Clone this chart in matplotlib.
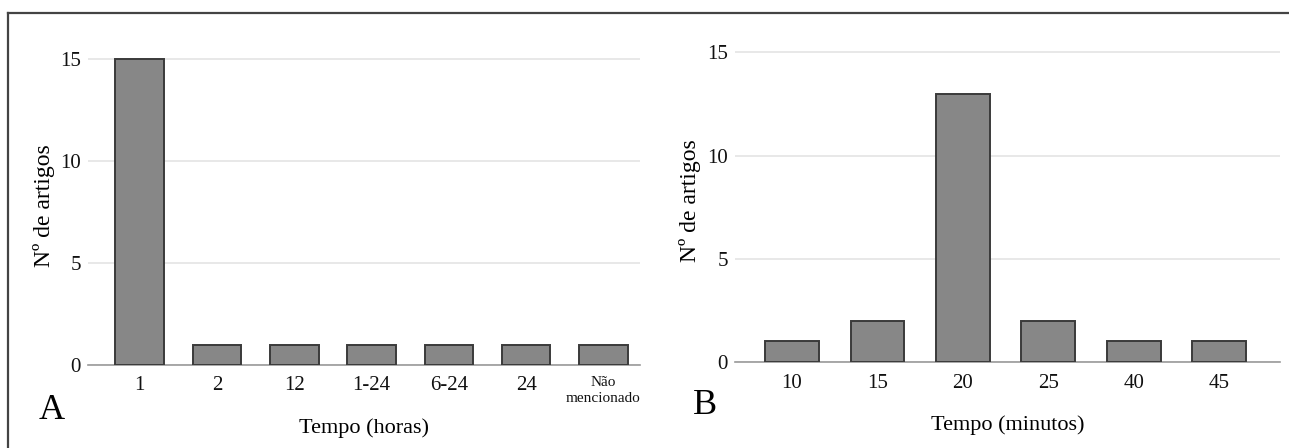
import matplotlib.pyplot as plt
from matplotlib.lines import Line2D

horas = ['1', '2', '12', '1-24', '6-24', '24', 'Não\nmencionado']
artigos_horas = [15, 1, 1, 1, 1, 1, 1]

minutos = ['10', '15', '20', '25', '40', '45']
artigos_minutos = [1, 2, 13, 2, 1, 1]

plt.rcParams['font.family'] = ['Liberation Serif', 'DejaVu Serif']

fig = plt.figure(figsize=(12.89, 4.48), dpi=100)

# moldura (só esquerda e topo aparecem)
fig.add_artist(Line2D([0.0062, 0.0062], [0, 0.971], transform=fig.transFigure, color='#444444', lw=1.6))
fig.add_artist(Line2D([0.0062, 1.0], [0.971, 0.971], transform=fig.transFigure, color='#444444', lw=1.6))


def painel(ax, cats, vals, xlab, letra, xlim, pos_letra, pad, labpad):
    x = range(len(cats))
    ax.set_axisbelow(True)
    ax.bar(x, vals, width=0.63, color='#878787', edgecolor='#3a3a3a', linewidth=1.4, zorder=3)
    ax.set_ylim(0, 15.6)
    ax.set_xlim(*xlim)
    ax.set_yticks([0, 5, 10, 15])
    ax.set_xticks(list(x))
    ax.set_xticklabels(cats)
    ax.yaxis.grid(True, color='#e4e4e4', lw=1.2)
    for s in ['top', 'right', 'left']:
        ax.spines[s].set_visible(False)
    ax.spines['bottom'].set_color('#9a9a9a')
    ax.spines['bottom'].set_linewidth(1.2)
    ax.tick_params(axis='both', length=0, labelsize=15, colors='#111111')
    ax.tick_params(axis='x', pad=pad)
    ax.tick_params(axis='y', pad=5)
    ax.set_ylabel('Nº de artigos', fontsize=17, labelpad=4)
    ax.set_xlabel(xlab, fontsize=16, labelpad=labpad)
    ax.text(pos_letra[0], pos_letra[1], letra, transform=ax.transAxes, fontsize=26, ha='center', va='center')


axA = fig.add_axes([0.0683, 0.185, 0.428, 0.71])
painel(axA, horas, artigos_horas, 'Tempo (horas)', 'A', (-0.67, 6.47), (-0.065, -0.142), 7.5, 10)
for lbl in axA.get_xticklabels():
    if 'Não' in lbl.get_text():
        lbl.set_fontsize(11)
        lbl.set_linespacing(1.3)

axB = fig.add_axes([0.570, 0.192, 0.423, 0.719])
painel(axB, minutos, artigos_minutos, 'Tempo (minutos)', 'B', (-0.67, 5.71), (-0.055, -0.134), 9, 16)

fig.savefig('out.png', dpi=100)
